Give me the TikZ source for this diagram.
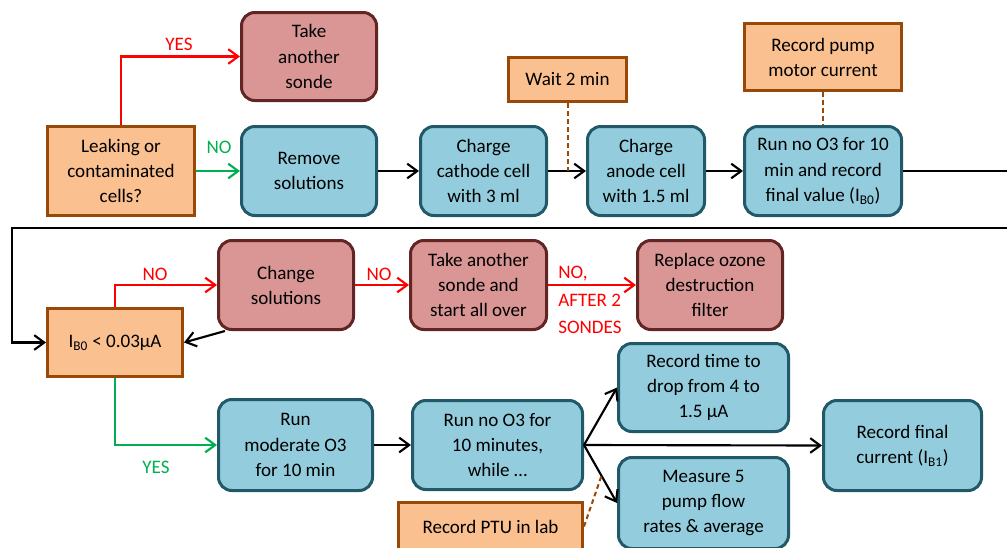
\documentclass[tikz,border=0pt]{standalone}
\usepackage{fontspec}
\setmainfont{Carlito}
\usetikzlibrary{arrows.meta,calc}
\definecolor{ofill}{HTML}{FAC090}
\definecolor{odraw}{HTML}{984807}
\definecolor{pfill}{HTML}{D99694}
\definecolor{pdraw}{HTML}{632523}
\definecolor{bfill}{HTML}{93CDDD}
\definecolor{bdraw}{HTML}{215968}
\definecolor{gr}{HTML}{00B050}
\definecolor{rd}{HTML}{FF0000}
\begin{document}
\begin{tikzpicture}[x=0.75pt,y=-0.75pt,
  font=\fontsize{14.3}{18.8}\selectfont,
  base/.style={line width=2.25pt, align=center, inner sep=1pt},
  obox/.style={base, draw=odraw, fill=ofill},
  pbox/.style={base, draw=pdraw, fill=pfill, rounded corners=10pt},
  bbox/.style={base, draw=bdraw, fill=bfill, rounded corners=10pt},
  place/.style n args={4}{minimum width={(#3-#1-3)*0.75pt}, minimum height={(#4-#2-3)*0.75pt}, at={({(#1+#3)/2},{(#2+#4)/2})}},
  arr/.style={line width=1.6pt, -{Straight Barb[length=7.5pt,width=11pt]}},
  dsh/.style={line width=1.5pt, draw=odraw, dash pattern=on 3.5pt off 2.5pt},
  lbl/.style={inner sep=0pt}]
\useasboundingbox (0,0) rectangle (1007,547);
\clip (0,0) rectangle (1007,547);

% top row
\node[obox, place={46}{125}{196}{217}] (leak) {Leaking or\\contaminated\\cells?};
\node[pbox, place={240}{11}{378}{102}] (tak1) {Take\\another\\sonde};
\node[bbox, place={240}{125}{378}{217}] (rem) {Remove\\solutions};
\node[bbox, place={419}{125}{548}{217}] (cath) {Charge\\cathode cell\\with 3 ml};
\node[obox, place={507}{56}{628}{103}] (wait) {Wait 2 min};
\node[bbox, place={586}{125}{706}{217}] (anod) {Charge\\anode cell\\with 1.5 ml};
\node[obox, place={743}{22}{903}{92}] (pump) {Record pump\\motor current};
\node[bbox, place={743}{125}{903}{217}] (run0) {Run no O3 for 10\\min and record\\final value (I\textsubscript{B0})};

% middle row
\node[obox, place={46}{307}{184}{378}] (ib0) {I\textsubscript{B0} < 0.03µA};
\node[pbox, place={217}{239}{355}{331}] (chg) {Change\\solutions};
\node[pbox, place={409}{239}{548}{331}] (tak2) {Take another\\sonde and\\start all over};
\node[pbox, place={636}{239}{784}{331}] (rep) {Replace ozone\\destruction\\filter};

% bottom row
\node[bbox, place={617}{342}{790}{433}] (rtime) {Record time to\\drop from 4 to\\1.5 µA};
\node[bbox, place={217}{398}{374}{492}] (mod) {Run\\moderate O3\\for 10 min};
\node[bbox, place={411}{399}{584}{491}] (run1) {Run no O3 for\\10 minutes,\\while …};
\node[bbox, place={617}{456}{790}{550}] (meas) {Measure 5\\pump flow\\rates \& average};
\node[bbox, place={822}{399}{983}{492}] (fin) {Record final\\current (I\textsubscript{B1})};
\node[obox, place={397}{501}{584}{552}] (ptu) {Record PTU in lab};

% connectors top
\draw[arr, rd] (leak.north) |- (tak1.west);
\node[lbl, text=rd] (yes1) at (179,44) {YES};
\draw[arr, gr] (leak.east) -- (rem.west);
\node[lbl, text=gr] (no1) at (219,147) {NO};
\draw[arr] (rem.east) -- (cath.west);
\draw[arr] (cath.east) -- (anod.west);
\draw[arr] (anod.east) -- (run0.west);
\coordinate (wj) at (wait.south |- cath.east);
\draw[dsh] (wait.south) -- (wj);
\draw[dsh] (pump.south) -- (run0.north);

% wrap-around
\coordinate (rtop) at (1030,228);
\coordinate (lft) at (12,228);
\draw[arr] (run0.east) -| (rtop) -- (lft) |- (ib0.west);

% middle connectors
\draw[arr, rd] (ib0.north) |- (chg.west);
\node[lbl, text=rd] (no2) at (155,274) {NO};
\draw[arr] (chg.217) -- (ib0.east);
\draw[arr, rd] (chg.east) -- (tak2.west);
\node[lbl, text=rd] (no3) at (379,274) {NO};
\draw[arr, rd] (tak2.east) -- (rep.west);
\node[lbl, text=rd, align=left, anchor=west, font=\fontsize{14.3}{20.6}\selectfont] (no4) at (558,300) {NO,\\AFTER 2\\SONDES};

% bottom connectors
\draw[arr, gr] (ib0.south) |- (mod.west);
\node[lbl, text=gr] (yes2) at (156,467) {YES};
\draw[arr] (mod.east) -- (run1.west);
\draw[arr] (run1.east) -- (rtime.west);
\draw[arr] (run1.east) -- (fin.west);
\draw[arr] (run1.east) -- (meas.west);
\coordinate (pj) at ($(run1.east)!0.53!(meas.west)$);
\draw[dsh] (ptu.east) -- (pj);
\end{tikzpicture}
\end{document}
